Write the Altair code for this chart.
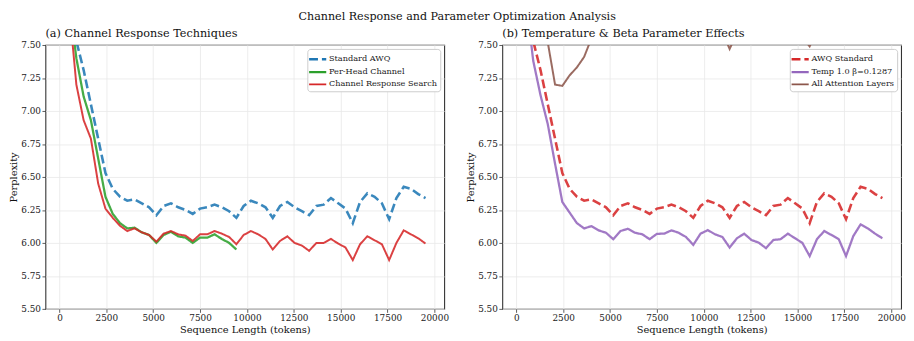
import altair as alt
import pandas as pd

# ---------------- data ----------------
x_tokens = [512, 900, 1288, 1676, 2064, 2452, 2840, 3228, 3616, 4004,
            4392, 4780, 5168, 5556, 5944, 6332, 6720, 7108, 7496, 7884,
            8272, 8660, 9048, 9436, 9824, 10212, 10600, 10988, 11376, 11764,
            12152, 12540, 12928, 13316, 13704, 14092, 14480, 14868, 15256, 15644,
            16032, 16420, 16808, 17196, 17584, 17972, 18360, 18748, 19136, 19524]

standard_awq = [8.10, 7.53, 7.31, 7.05, 6.79, 6.53, 6.41, 6.35, 6.32, 6.33,
                6.30, 6.27, 6.21, 6.28, 6.30, 6.27, 6.25, 6.22, 6.26, 6.27,
                6.29, 6.27, 6.24, 6.19, 6.28, 6.32, 6.30, 6.27, 6.19, 6.28,
                6.31, 6.27, 6.24, 6.21, 6.28, 6.29, 6.34, 6.30, 6.26, 6.15,
                6.31, 6.375, 6.35, 6.30, 6.18, 6.34, 6.425, 6.41, 6.37, 6.34]

per_head_channel = [7.85, 7.40, 7.11, 6.93, 6.64, 6.35, 6.22, 6.15, 6.11, 6.115,
                    6.08, 6.06, 6.00, 6.06, 6.085, 6.05, 6.04, 6.00, 6.04, 6.04,
                    6.065, 6.03, 6.00, 5.95]

channel_response_search = [7.80, 7.20, 6.93, 6.79, 6.45, 6.26, 6.19, 6.13, 6.09, 6.11,
                           6.08, 6.06, 6.01, 6.07, 6.09, 6.065, 6.055, 6.015, 6.065, 6.065,
                           6.09, 6.07, 6.045, 5.99, 6.06, 6.09, 6.065, 6.03, 5.95, 6.015,
                           6.05, 6.00, 5.98, 5.94, 6.00, 6.00, 6.03, 5.995, 5.965, 5.87,
                           5.99, 6.05, 6.02, 5.99, 5.87, 6.00, 6.095, 6.065, 6.035, 5.995]

temp_beta = [7.85, 7.38, 7.12, 6.90, 6.60, 6.31, 6.23, 6.15, 6.11, 6.127,
             6.095, 6.077, 6.028, 6.09, 6.107, 6.077, 6.065, 6.028, 6.069, 6.07,
             6.095, 6.077, 6.045, 5.985, 6.07, 6.097, 6.065, 6.045, 5.965, 6.035,
             6.07, 6.022, 6.002, 5.96, 6.022, 6.028, 6.07, 6.035, 6.00, 5.90,
             6.028, 6.09, 6.06, 6.028, 5.90, 6.052, 6.14, 6.11, 6.07, 6.035]

all_attention_layers = [8.60, 8.20, 7.90, 7.52, 7.20, 7.19, 7.27, 7.33, 7.41, 7.55,
                        7.60, 7.62, 7.58, 7.63, 7.66, 7.63, 7.62, 7.58, 7.62, 7.62,
                        7.65, 7.62, 7.60, 7.54, 7.62, 7.65, 7.62, 7.60, 7.47, 7.59,
                        7.63, 7.58, 7.56, 7.52, 7.58, 7.58, 7.62, 7.59, 7.56, 7.49,
                        7.60, 7.66, 7.63, 7.60, 7.53, 7.65, 7.72, 7.69, 7.65, 7.62]

series_a = ["Standard AWQ", "Per-Head Channel", "Channel Response Search"]
series_b = ["AWQ Standard", "Temp 1.0 β=0.1287", "All Attention Layers"]
x_ticks = [0, 2500, 5000, 7500, 10000, 12500, 15000, 17500, 20000]
y_ticks = [5.50, 5.75, 6.00, 6.25, 6.50, 6.75, 7.00, 7.25, 7.50]


def long_df(names, arrays):
    rows = []
    for name, arr in zip(names, arrays):
        for i, v in enumerate(arr):
            rows.append({"series": name, "x": x_tokens[i], "y": v, "order": i})
    return pd.DataFrame(rows)


df_a = long_df(series_a, [standard_awq, per_head_channel, channel_response_search])
df_b = long_df(series_b, [standard_awq, temp_beta, all_attention_layers])

FONT = "DejaVu Serif"
W, H = 405, 268


def panel(df, names, colors, dashes, title):
    legend = alt.Legend(
        title=None, orient="top-right", offset=4, fillColor="white",
        strokeColor="#cccccc", cornerRadius=3, padding=3, rowPadding=0,
        labelFont=FONT, labelFontSize=8.3, labelColor="#222", labelOffset=4,
        symbolType="M-1.45,0L1.45,0", symbolSize=144, symbolStrokeWidth=2.5,
        symbolFillColor="transparent",
    )
    return alt.Chart(df, title=alt.TitleParams(
        title, anchor="start", frame="group", font=FONT, fontSize=11.4,
        fontWeight="normal", color="#111", offset=2)).mark_line(
        clip=True, strokeOpacity=0.88).encode(
        x=alt.X("x:Q", scale=alt.Scale(domain=[-750, 20520], nice=False, zero=False),
                axis=alt.Axis(values=x_ticks, format="d", title="Sequence Length (tokens)")),
        y=alt.Y("y:Q", scale=alt.Scale(domain=[5.5, 7.5], nice=False, zero=False),
                axis=alt.Axis(values=y_ticks, format=".2f", title="Perplexity")),
        color=alt.Color("series:N", scale=alt.Scale(domain=names, range=colors),
                        sort=names, legend=legend),
        strokeDash=alt.StrokeDash("series:N", scale=alt.Scale(domain=names, range=dashes),
                                  sort=names, legend=legend),
        strokeWidth=alt.StrokeWidth("series:N", scale=alt.Scale(domain=names, range=[2.6, 2.0, 2.0]),
                                    legend=None),
        order="order:Q",
    ).properties(width=W, height=H)


left = panel(df_a, series_a, ["#1f77b4", "#2ca02c", "#d62728"],
             [[9, 4], [1, 0], [1, 0]], "(a) Channel Response Techniques")
right = panel(df_b, series_b, ["#d62728", "#9467bd", "#8c564b"],
              [[9, 4], [1, 0], [1, 0]], "(b) Temperature & Beta Parameter Effects")

chart = alt.hconcat(left, right, spacing=16).resolve_scale(
    color="independent", strokeDash="independent", strokeWidth="independent"
).properties(
    title=alt.TitleParams("Channel Response and Parameter Optimization Analysis",
                          anchor="middle", font=FONT, fontSize=11.3, fontWeight="normal",
                          color="#111", offset=5),
    padding={"left": 0, "top": 0, "right": 0, "bottom": 0},
).configure_view(stroke="#333333", strokeWidth=1.1).configure_axis(
    labelFont=FONT, labelFontSize=9, labelColor="#222",
    titleFont=FONT, titleFontSize=10, titleFontWeight="normal", titleColor="#111",
    gridColor="#e8e8e8", gridWidth=0.8, domain=False,
    tickColor="#333", tickSize=3.5, tickWidth=0.8, labelPadding=1.5, titlePadding=2,
)

chart.save("out.html", embed_options={"renderer": "svg", "actions": False})
